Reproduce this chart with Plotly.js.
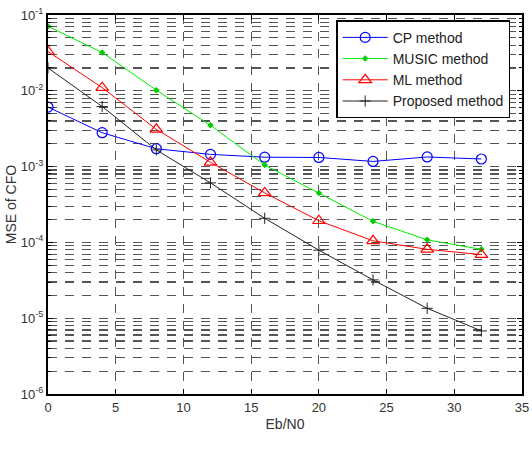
<!DOCTYPE html>
<html>
<head>
<meta charset="utf-8">
<script src="https://cdn.plot.ly/plotly-3.0.1.min.js"></script>
<style>
  html, body { margin: 0; padding: 0; background: #fff; }
  #chart { width: 532px; height: 452px; }
</style>
</head>
<body>
<div id="chart"></div>
<script>
// Eb/N0 (dB) sweep
const ebn0 = [0, 4, 8, 12, 16, 20, 24, 28, 32];

// MSE of the CFO estimate for each estimator
const mseCP       = [6.1e-3, 2.8e-3, 1.72e-3, 1.45e-3, 1.33e-3, 1.32e-3, 1.17e-3, 1.34e-3, 1.26e-3];
const mseMUSIC    = [7.1e-2, 3.2e-2, 1.02e-2, 3.5e-3, 1.05e-3, 4.5e-4, 1.9e-4, 1.08e-4, 8.1e-5];
const mseML       = [3.3e-2, 1.1e-2, 3.1e-3, 1.14e-3, 4.5e-4, 1.93e-4, 1.05e-4, 8.1e-5, 6.9e-5];
const mseProposed = [2.0e-2, 6.2e-3, 1.66e-3, 6.1e-4, 2.08e-4, 7.9e-5, 3.2e-5, 1.35e-5, 6.8e-6];

const seriesNames = ['CP method', 'MUSIC method', 'ML method', 'Proposed method'];

// Decade tick labels for the log axis
const yTickVals = [1e-6, 1e-5, 1e-4, 1e-3, 1e-2, 1e-1];
const yTickText = ['10<sup>-6</sup>', '10<sup>-5</sup>', '10<sup>-4</sup>', '10<sup>-3</sup>', '10<sup>-2</sup>', '10<sup>-1</sup>'];

const font = { family: 'Liberation Sans, Arial, sans-serif', size: 13, color: '#333' };
const gridColor = '#555';
const gridDash = '9px,8px';

const traces = [
  {
    x: ebn0, y: mseCP, name: seriesNames[0], type: 'scatter', mode: 'lines+markers',
    line: { color: '#0000ff', width: 1 },
    marker: { symbol: 'circle-open', size: 10, color: '#0000ff', line: { width: 1.2, color: '#0000ff' } }
  },
  {
    x: ebn0, y: mseMUSIC, name: seriesNames[1], type: 'scatter', mode: 'lines+markers',
    line: { color: '#00ee00', width: 1 },
    marker: { symbol: 'diamond', size: 5, color: '#00cc00' }
  },
  {
    x: ebn0, y: mseML, name: seriesNames[2], type: 'scatter', mode: 'lines+markers',
    line: { color: '#ff0000', width: 1 },
    marker: { symbol: 'triangle-up-open', size: 11, color: '#ff0000', line: { width: 1.2, color: '#ff0000' } }
  },
  {
    x: ebn0, y: mseProposed, name: seriesNames[3], type: 'scatter', mode: 'lines+markers',
    line: { color: '#222', width: 1 },
    marker: { symbol: 'cross-thin-open', size: 8, color: '#222', line: { width: 1, color: '#222' } }
  },
  {
    // blank last row of the legend box
    x: [], y: [], name: ' ', type: 'scatter', mode: 'markers',
    marker: { symbol: 'circle', size: 2, color: '#999' }
  }
];

const layout = {
  width: 532, height: 452,
  margin: { l: 48, r: 10, t: 15, b: 58 },
  paper_bgcolor: '#fff', plot_bgcolor: '#fff',
  font: font,
  showlegend: true,
  legend: {
    x: 0.608, y: 0.986, xanchor: 'left', yanchor: 'top',
    bgcolor: '#fff', bordercolor: '#000', borderwidth: 1.5,
    font: { family: font.family, size: 14, color: '#222' },
    itemwidth: 45, tracegroupgap: 0
  },
  xaxis: {
    range: [0, 35], dtick: 5, tick0: 0,
    showline: true, linecolor: '#000', linewidth: 2, mirror: 'allticks',
    ticks: 'inside', ticklen: 5, tickcolor: '#000',
    tickfont: { family: font.family, size: 13, color: '#333' },
    showgrid: true, gridcolor: gridColor, gridwidth: 1.2, griddash: gridDash,
    zeroline: false,
    title: { text: 'Eb/N0', font: { family: font.family, size: 14, color: '#333' }, standoff: 6 }
  },
  yaxis: {
    type: 'log', range: [-6, -1],
    tickmode: 'array', tickvals: yTickVals, ticktext: yTickText,
    showline: true, linecolor: '#000', linewidth: 2, mirror: 'allticks',
    ticks: 'inside', ticklen: 5, tickcolor: '#000',
    tickfont: { family: font.family, size: 13, color: '#333' },
    showgrid: true, gridcolor: gridColor, gridwidth: 1.2, griddash: gridDash,
    zeroline: false,
    minor: { dtick: 'D1', ticks: 'inside', ticklen: 3, tickcolor: '#000',
             showgrid: true, gridcolor: gridColor, gridwidth: 1.2, griddash: gridDash },
    title: { text: 'MSE of CFO', font: { family: font.family, size: 14, color: '#333' }, standoff: 1 }
  }
};

Plotly.newPlot('chart', traces, layout, { staticPlot: true, displayModeBar: false });
</script>
</body>
</html>
